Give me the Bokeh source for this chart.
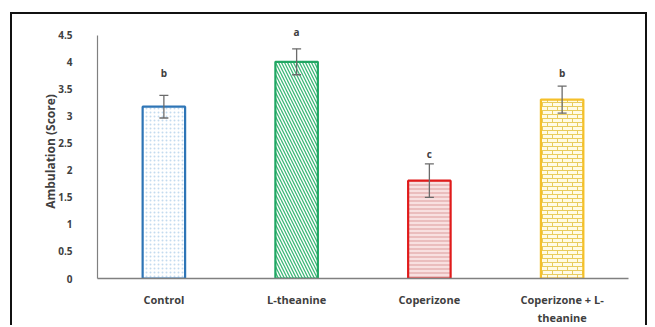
import base64
from bokeh.plotting import figure
from bokeh.models import ColumnDataSource, Whisker, FactorRange, FixedTicker, ImageURLTexture
from bokeh.core.properties import value
from bokeh.embed import file_html
from bokeh.resources import INLINE

categories = ["Control", "L-theanine", "Coperizone", "Coperizone + L-\ntheanine"]
means = [3.18, 4.01, 1.81, 3.31]
errors = [0.21, 0.24, 0.31, 0.25]
letters = ["b", "a", "c", "b"]
letter_y = [3.80, 4.56, 2.30, 3.80]
y_ticks = [0, 0.5, 1, 1.5, 2, 2.5, 3, 3.5, 4, 4.5]

line_colors = ["#2E75B6", "#21A663", "#E01B1B", "#F5C02A"]
fill_colors = ["#FFFFFF", "#FFFFFF", "#F8E0E0", "#FFFBE6"]
hatch_colors = ["#C3DBEF", "#3DB878", "#DC9A9A", "#EDD36E"]
hatch_patterns = ["dot", "left_diagonal_line", "horizontal_line", "brick"]
hatch_scales = [4, 6, 4, 5]
hatch_weights = [1, 1.3, 1, 1]

brick_svg = ('<svg xmlns="http://www.w3.org/2000/svg" width="10" height="8">'
             '<path d="M0 0.5H10M0 4.5H10M0.5 0V4.5M5.5 4.5V8" stroke="#E8CC5E" '
             'stroke-width="1" fill="none"/></svg>')
brick_url = "data:image/svg+xml;base64," + base64.b64encode(brick_svg.encode()).decode()

src = ColumnDataSource(dict(
    x=categories, top=means,
    upper=[m + e for m, e in zip(means, errors)],
    lower=[m - e for m, e in zip(means, errors)],
    lc=line_colors, fc=fill_colors, hc=hatch_colors, hp=hatch_patterns,
    hs=hatch_scales, hw=hatch_weights,
))
lsrc = ColumnDataSource(dict(x=categories, y=letter_y, t=letters))

p = figure(x_range=FactorRange(*categories, range_padding=0), y_range=(0, 4.7),
           width=637, height=313, output_backend="svg", toolbar_location=None,
           min_border_left=85, min_border_right=21, min_border_top=10, min_border_bottom=47,
           styles={"margin-left": "10px", "margin-top": "12px",
                   "border-left": "2px solid #111", "border-right": "2px solid #111",
                   "border-top": "2px solid #111"})

p.vbar(x="x", top="top", width=0.32, source=src, line_color="lc", line_width=2.2,
       fill_color="fc", hatch_pattern="hp", hatch_color="hc", hatch_scale="hs",
       hatch_weight="hw",
       hatch_extra={"brick": ImageURLTexture(url=brick_url, repetition="repeat")})

wh = Whisker(base="x", upper="upper", lower="lower", source=src,
             line_color="#6b6b6b", line_width=1.3, level="overlay")
wh.upper_head.size = 9
wh.lower_head.size = 9
wh.upper_head.line_color = "#6b6b6b"
wh.lower_head.line_color = "#6b6b6b"
wh.upper_head.line_width = 1.3
wh.lower_head.line_width = 1.3
p.add_layout(wh)

p.text(x="x", y="y", text="t", source=lsrc, text_align="center", text_baseline="middle",
       text_font=value("Open Sans"), text_font_style="bold", text_font_size="10px",
       text_color="#404040")

p.grid.visible = False
p.outline_line_color = None
p.background_fill_color = "white"
p.border_fill_color = "white"

p.yaxis.ticker = FixedTicker(ticks=y_ticks)
p.yaxis.bounds = (0, 4.5)
p.yaxis.major_tick_line_color = None
p.yaxis.minor_tick_line_color = None
p.yaxis.axis_line_color = "#808080"
p.yaxis.axis_line_width = 1.2
p.yaxis.axis_label = "Ambulation (Score)"
p.yaxis.axis_label_text_font = "Open Sans"
p.yaxis.axis_label_text_font_style = "bold"
p.yaxis.axis_label_text_font_size = "12px"
p.yaxis.axis_label_text_color = "#404040"
p.yaxis.axis_label_standoff = -4
p.yaxis.major_label_text_font = "Open Sans"
p.yaxis.major_label_text_font_style = "bold"
p.yaxis.major_label_text_font_size = "10px"
p.yaxis.major_label_text_color = "#404040"
p.yaxis.major_label_standoff = 19

p.xaxis.major_tick_line_color = None
p.xaxis.minor_tick_line_color = None
p.xaxis.axis_line_color = "#808080"
p.xaxis.axis_line_width = 1.5
p.xaxis.major_label_text_font = "Open Sans"
p.xaxis.major_label_text_font_style = "bold"
p.xaxis.major_label_text_font_size = "11px"
p.xaxis.major_label_text_color = "#404040"
p.xaxis.major_label_standoff = 7

open("out.html", "w").write(file_html(p, INLINE))
